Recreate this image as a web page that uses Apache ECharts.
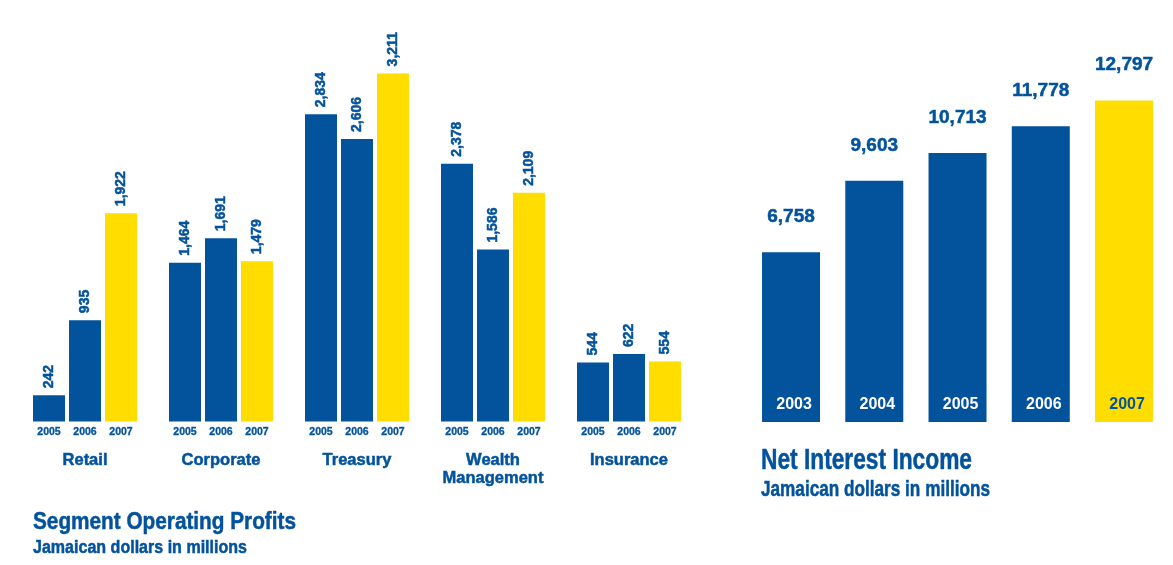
<!DOCTYPE html>
<html>
<head>
<meta charset="utf-8">
<script src="https://cdn.jsdelivr.net/npm/echarts@6/dist/echarts.min.js"></script>
<style>
  html, body { margin: 0; padding: 0; background: #ffffff; }
  #chart { width: 1173px; height: 565px; }
</style>
</head>
<body>
<div id="chart"></div>
<script>
// Segment operating profits (J$ millions)
const segments = ['Retail', 'Corporate', 'Treasury', 'Wealth\nManagement', 'Insurance'];
const segYears = ['2005', '2006', '2007'];
const profits2005 = [242, 1464, 2834, 2378, 544];
const profits2006 = [935, 1691, 2606, 1586, 622];
const profits2007 = [1922, 1479, 3211, 2109, 554];

// Net interest income (J$ millions)
const niiYears = ['2003', '2004', '2005', '2006', '2007'];
const niiValues = [6758, 9603, 10713, 11778, 12797];

const BLUE = '#02529C';
const YELLOW = '#FFDD00';
const FONT = "'Liberation Sans', Arial, sans-serif";

const fmt = v => v.toLocaleString('en-US');
const profitSeries = [profits2005, profits2006, profits2007];
const latestYear = niiYears[niiYears.length - 1];

// Headline texts are squeezed horizontally to a condensed look
const measureCtx = document.createElement('canvas').getContext('2d');
function condensedText(text, x, yMid, size, width) {
  measureCtx.font = 'bold ' + size + 'px ' + FONT;
  const natural = measureCtx.measureText(text).width;
  return {
    type: 'text',
    x: x,
    y: yMid,
    scaleX: width / natural,
    silent: true,
    style: {
      text: text,
      x: 0,
      y: 0,
      fill: BLUE,
      stroke: BLUE,
      lineWidth: 0.5,
      font: 'bold ' + size + 'px ' + FONT,
      textAlign: 'left',
      textVerticalAlign: 'middle'
    }
  };
}

// Heavier text: bold face plus a thin outline in the same colour
const heavy = color => ({ color: color, textBorderColor: color, textBorderWidth: 0.5 });

const series = [];

// Grouped profit bars with rotated value labels
profitSeries.forEach((vals, i) => {
  series.push({
    type: 'bar',
    name: segYears[i],
    xAxisIndex: 0,
    yAxisIndex: 0,
    data: vals,
    barWidth: 32,
    barGap: '12.5%',
    itemStyle: { color: i === profitSeries.length - 1 ? YELLOW : BLUE },
    label: Object.assign({
      show: true,
      position: 'top',
      distance: 7,
      rotate: 90,
      align: 'left',
      verticalAlign: 'middle',
      formatter: p => fmt(p.value),
      fontFamily: FONT,
      fontWeight: 'bold',
      fontSize: 14
    }, heavy(BLUE)),
    silent: true
  });
});

// Same bars, transparent, carrying the year label underneath each bar
profitSeries.forEach((vals, i) => {
  series.push({
    type: 'bar',
    name: segYears[i] + '-year',
    xAxisIndex: 1,
    yAxisIndex: 0,
    data: vals,
    barWidth: 32,
    barGap: '12.5%',
    itemStyle: { color: 'rgba(0,0,0,0)' },
    label: Object.assign({
      show: true,
      position: 'bottom',
      distance: 5,
      formatter: () => segYears[i],
      fontFamily: FONT,
      fontWeight: 'bold',
      fontSize: 10.5
    }, heavy(BLUE), { textBorderWidth: 0.3 }),
    silent: true
  });
});

// Net interest income bars
series.push({
  type: 'bar',
  name: 'nii',
  xAxisIndex: 2,
  yAxisIndex: 1,
  barWidth: 58,
  data: niiValues.map((v, i) => ({
    value: v,
    itemStyle: { color: niiYears[i] === latestYear ? YELLOW : BLUE }
  })),
  label: Object.assign({
    show: true,
    position: 'top',
    distance: 26,
    formatter: p => fmt(p.value),
    fontFamily: FONT,
    fontWeight: 'bold',
    fontSize: 19
  }, heavy(BLUE)),
  silent: true
});

const option = {
  animation: false,
  backgroundColor: '#ffffff',
  graphic: [
    condensedText('Segment Operating Profits', 33, 522, 24.5, 263),
    condensedText('Jamaican dollars in millions', 33, 548.5, 18, 214),
    condensedText('Net Interest Income', 761, 460.5, 29, 211),
    condensedText('Jamaican dollars in millions', 761, 490, 21.5, 229)
  ],
  grid: [
    { left: 17, width: 680, top: 0, bottom: 143.5 },
    { left: 749.4, width: 416.25, top: 0, bottom: 143 }
  ],
  xAxis: [
    {
      type: 'category', gridIndex: 0, data: segments,
      axisLine: { show: false }, axisTick: { show: false }, splitLine: { show: false },
      axisLabel: Object.assign({
        margin: 30, fontFamily: FONT, fontWeight: 'bold', fontSize: 16.5, lineHeight: 18,
        interval: 0
      }, heavy(BLUE))
    },
    {
      type: 'category', gridIndex: 0, data: segments, show: false
    },
    {
      type: 'category', gridIndex: 1, data: niiYears, z: 10,
      axisLine: { show: false }, axisTick: { show: false }, splitLine: { show: false },
      axisLabel: {
        inside: true, margin: 9, padding: [0, 0, 0, 6],
        fontFamily: FONT, fontWeight: 'bold', fontSize: 16,
        color: v => (v === latestYear ? BLUE : '#ffffff'),
        interval: 0
      }
    }
  ],
  yAxis: [
    { type: 'value', gridIndex: 0, min: 0, max: 3888, show: false, splitLine: { show: false } },
    { type: 'value', gridIndex: 1, min: 0, max: 16800, show: false, splitLine: { show: false } }
  ],
  series: series
};

const chart = echarts.init(document.getElementById('chart'), null, { renderer: 'canvas' });
chart.setOption(option);
</script>
</body>
</html>
